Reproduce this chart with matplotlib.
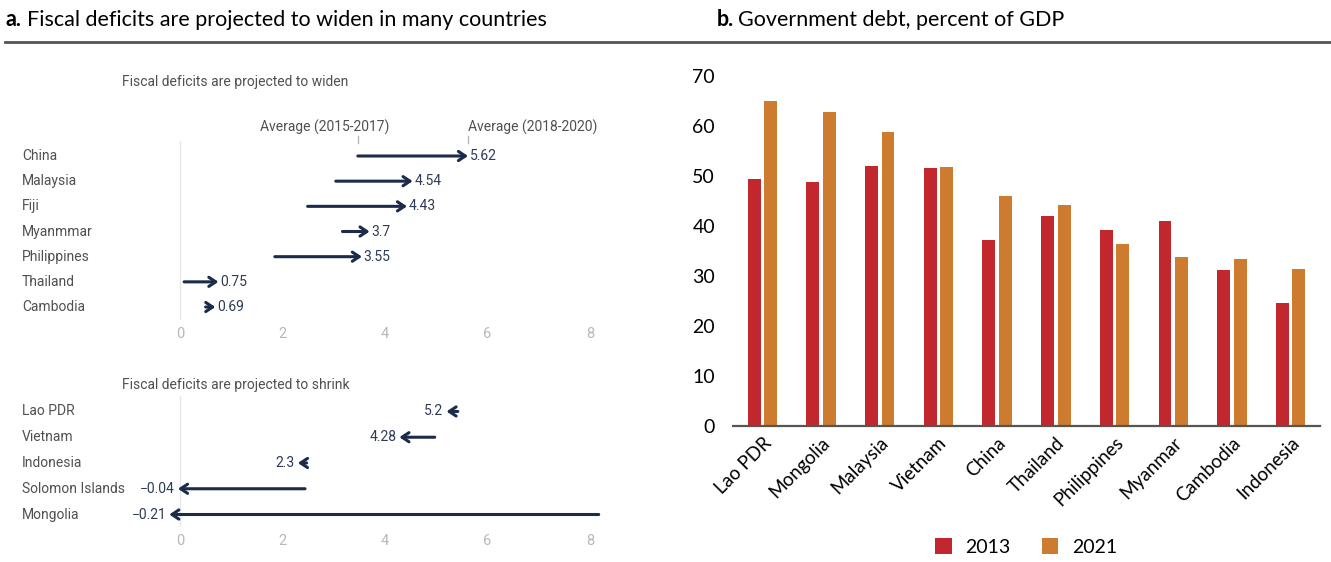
# Fiscal deficits and government debt - two panel figure
import matplotlib
matplotlib.use("Agg")
import matplotlib.pyplot as plt
import matplotlib.transforms as mtransforms
import numpy as np

# ==========================================
# Data
# ==========================================

# Panel a - widening deficits
widen_countries = ["China", "Malaysia", "Fiji", "Myanmmar", "Philippines", "Thailand", "Cambodia"]
widen_start = [3.47, 3.04, 2.49, 3.17, 1.85, 0.08, 0.50]   # average 2015-2017
widen_end = [5.62, 4.54, 4.43, 3.7, 3.55, 0.75, 0.69]      # average 2018-2020
widen_labels = ["5.62", "4.54", "4.43", "3.7", "3.55", "0.75", "0.69"]

# Panel a - shrinking deficits
shrink_countries = ["Lao PDR", "Vietnam", "Indonesia", "Solomon Islands", "Mongolia"]
shrink_start = [5.42, 4.97, 2.47, 2.44, 8.17]
shrink_end = [5.2, 4.28, 2.3, -0.04, -0.21]
shrink_labels = ["5.2", "4.28", "2.3", "\u22120.04", "\u22120.21"]

# Panel b - government debt
debt_countries = ["Lao PDR", "Mongolia", "Malaysia", "Vietnam", "China",
                  "Thailand", "Philippines", "Myanmar", "Cambodia", "Indonesia"]
debt_2013 = [49.3, 48.7, 52.0, 51.5, 37.1, 42.0, 39.2, 40.9, 31.1, 24.6]
debt_2021 = [65.0, 62.8, 58.8, 51.8, 46.0, 44.1, 36.3, 33.8, 33.3, 31.4]
years = ["2013", "2021"]

# ==========================================
# Style
# ==========================================

W, H = 1331, 562
navy = "#1c2b4a"
red = "#c1272d"
orange = "#cd7b2e"
grey_txt = "#505050"
val_txt = "#2e3b55"
light = "#b8b8b8"
narrow = ["Roboto", "DejaVu Sans"]
head_font = ["Lato", "DejaVu Sans"]

fig = plt.figure(figsize=(W / 100, H / 100), dpi=100)


def px_box(left, top, right, bottom):
    # pixel box -> figure fraction rect
    return [left / W, 1 - bottom / H, (right - left) / W, (bottom - top) / H]


# Headers and rule
fig.text(5 / W, 1 - 20 / H, "a.", fontsize=15.5, fontweight="bold",
         family=head_font, va="center", ha="left")
fig.text(27 / W, 1 - 20 / H, "Fiscal deficits are projected to widen in many countries",
         fontsize=15.5, family=head_font, va="center", ha="left")
fig.text(717 / W, 1 - 20 / H, "b.", fontsize=15.5, fontweight="bold",
         family=head_font, va="center", ha="left")
fig.text(738 / W, 1 - 20 / H, "Government debt, percent of GDP",
         fontsize=15.5, family=head_font, va="center", ha="left")
fig.add_artist(plt.Line2D([5 / W, 1], [1 - 42 / H, 1 - 42 / H],
                          color="#555555", lw=2, transform=fig.transFigure))


# ==========================================
# Panel a helper
# ==========================================

def arrow_panel(box, countries, start, end, labels, ymin, widen):
    ax = fig.add_axes(px_box(*box))
    n = len(countries)
    ax.set_xlim(-0.6, 8.4)
    ax.set_ylim(n - 0.5, ymin)
    for s in ax.spines.values():
        s.set_visible(False)
    ax.axvline(0, color="#e8e8e8", lw=1, zorder=0)
    ax.set_yticks([])
    ax.set_xticks([0, 2, 4, 6, 8])
    ax.tick_params(axis="x", length=0, labelcolor=light, labelsize=10.5, pad=5)
    for t in ax.get_xticklabels():
        t.set_family(narrow)

    trans = mtransforms.blended_transform_factory(fig.transFigure, ax.transData)
    for i in range(n):
        ax.text(22 / W, i, countries[i], transform=trans, fontsize=10,
                color=grey_txt, va="center", ha="left", family=narrow)
        ax.annotate("", xy=(end[i], i), xytext=(start[i], i),
                    arrowprops=dict(arrowstyle="->,head_length=0.45,head_width=0.3",
                                    color=navy, lw=2.2,
                                    shrinkA=0, shrinkB=0, mutation_scale=11))
        if widen:
            ax.text(end[i] + 0.03, i, labels[i], fontsize=10, color=val_txt,
                    va="center", ha="left", family=narrow)
        else:
            ax.text(end[i] - 0.06, i, labels[i], fontsize=10, color=val_txt,
                    va="center", ha="right", family=narrow)
    return ax


ax_top = arrow_panel((149.25, 140.9, 610.5, 319.6), widen_countries,
                     widen_start, widen_end, widen_labels, -0.6, True)
ax_bot = arrow_panel((149.25, 396, 610.5, 527.4), shrink_countries,
                     shrink_start, shrink_end, shrink_labels, -0.6, False)

fig.text(122 / W, 1 - 82 / H, "Fiscal deficits are projected to widen", fontsize=10,
         color=grey_txt, va="center", ha="left", family=narrow)
fig.text(122 / W, 1 - 385 / H, "Fiscal deficits are projected to shrink", fontsize=10,
         color=grey_txt, va="center", ha="left", family=narrow)

# Average markers on top panel (China row)
ax_top.text(widen_start[0] + 0.62, -1.15, "Average (2015-2017)", fontsize=10,
            color=grey_txt, va="center", ha="right", family=narrow)
ax_top.text(widen_end[0], -1.15, "Average (2018-2020)", fontsize=10,
            color=grey_txt, va="center", ha="left", family=narrow)
for xv in [widen_start[0], widen_end[0]]:
    ax_top.plot([xv, xv], [-0.8, -0.5], color=light, lw=1, clip_on=False)

# ==========================================
# Panel b - bar chart
# ==========================================

ax = fig.add_axes(px_box(733, 76, 1320, 425.7))
x = np.arange(len(debt_countries))
ax.bar(x - 0.14, debt_2013, width=0.22, color=red, label=years[0])
ax.bar(x + 0.14, debt_2021, width=0.22, color=orange, label=years[1])
ax.set_xlim(-0.5, 9.5)
ax.set_ylim(0, 70)
ax.set_yticks(range(0, 71, 10))
ax.set_xticks(x)
ax.set_xticklabels(debt_countries, rotation=45, ha="right", rotation_mode="anchor")
for s in ["top", "right", "left"]:
    ax.spines[s].set_visible(False)
ax.spines["bottom"].set_color("#555555")
ax.spines["bottom"].set_linewidth(1.6)
ax.tick_params(axis="both", length=0, labelsize=14)
ax.tick_params(axis="x", labelsize=13.5, pad=6)
ax.tick_params(axis="y", pad=13)
for t in ax.get_xticklabels() + ax.get_yticklabels():
    t.set_family(head_font)

leg = ax.legend(loc="center", bbox_to_anchor=(1026 / W, 1 - 547 / H),
                bbox_transform=fig.transFigure, ncol=2, frameon=False,
                handlelength=0.85, handleheight=0.85, columnspacing=1.6,
                handletextpad=0.7, prop={"family": head_font, "size": 14})

fig.savefig("out.png", dpi=100)
